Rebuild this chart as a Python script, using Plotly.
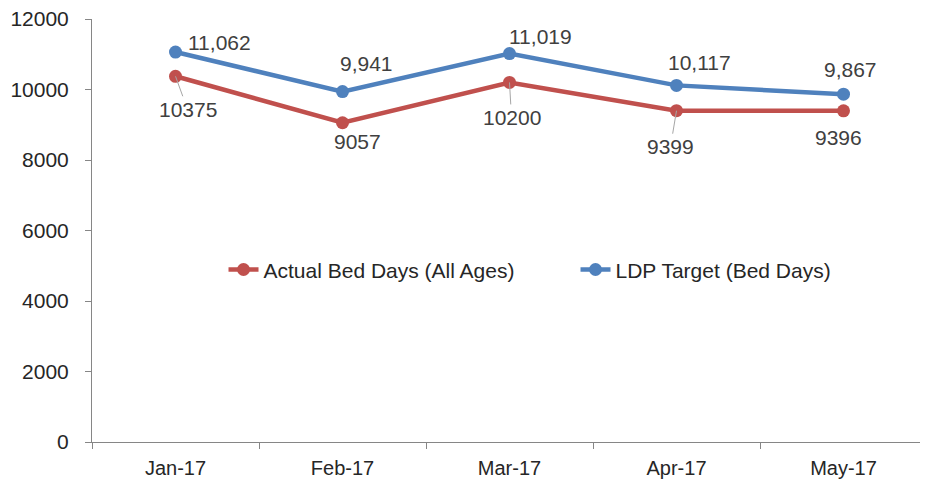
import plotly.graph_objects as go

months = ["Jan-17", "Feb-17", "Mar-17", "Apr-17", "May-17"]
actual = [10375, 9057, 10200, 9399, 9396]
target = [11062, 9941, 11019, 10117, 9867]
actual_name = "Actual Bed Days (All Ages)"
target_name = "LDP Target (Bed Days)"

RED = "#C0504D"
BLUE = "#4F81BD"
FONT = "Liberation Sans"

fig = go.Figure()
fig.add_trace(go.Scatter(x=months, y=actual, name=actual_name, mode="lines+markers",
                         line=dict(color=RED, width=4.5), marker=dict(size=13, color=RED)))
fig.add_trace(go.Scatter(x=months, y=target, name=target_name, mode="lines+markers",
                         line=dict(color=BLUE, width=4.5), marker=dict(size=13, color=BLUE)))

# label offsets in pixels (style only)
t_off = [(44, -10), (24, -28), (31, -17), (23, -23), (7, -25)]
a_off = [(12, 33), (15, 19), (2, 35), (-6, 36), (-5, 27)]
a_leader = [True, False, True, True, False]

for i, m in enumerate(months):
    fig.add_annotation(x=m, y=target[i], text=f"{target[i]:,}", showarrow=True,
                       ax=t_off[i][0], ay=t_off[i][1], arrowcolor="rgba(0,0,0,0)",
                       font=dict(family=FONT, size=21, color="#404040"))
    fig.add_annotation(x=m, y=actual[i], text=f"{actual[i]}", showarrow=True,
                       ax=a_off[i][0], ay=a_off[i][1], arrowhead=0, arrowwidth=1,
                       standoff=0,
                       arrowcolor="#A6A6A6" if a_leader[i] else "rgba(0,0,0,0)",
                       font=dict(family=FONT, size=21, color="#404040"))

# the page body has an 8px margin; margins below compensate for it
fig.update_layout(
    width=928, height=486,
    margin=dict(l=84, r=9, t=11, b=52, autoexpand=False),
    paper_bgcolor="white", plot_bgcolor="white",
    font=dict(family=FONT, size=20, color="#262626"),
    showlegend=True,
    legend=dict(orientation="h", x=0.1575, xanchor="left", y=0.407, yanchor="middle",
                font=dict(family=FONT, size=21, color="#262626"),
                bgcolor="rgba(0,0,0,0)", entrywidth=307, entrywidthmode="pixels"),
)
fig.update_xaxes(type="category", range=[-0.5, 4.5], showgrid=False, showline=True,
                 linecolor="#868686", linewidth=1, ticks="outside", tickson="boundaries",
                 ticklen=6, tickcolor="#868686", automargin=False, ticklabelstandoff=8,
                 tickfont=dict(family=FONT, size=20, color="#262626"))
fig.update_yaxes(range=[0, 12000], dtick=2000, tickformat="d", showgrid=False,
                 showline=True, linecolor="#868686", linewidth=1, ticks="outside",
                 ticklen=6, tickcolor="#868686", zeroline=False, ticklabelstandoff=12,
                 ticklabeloverflow="allow",
                 automargin=False, tickfont=dict(family=FONT, size=21, color="#262626"))

fig.write_html("out.html")
